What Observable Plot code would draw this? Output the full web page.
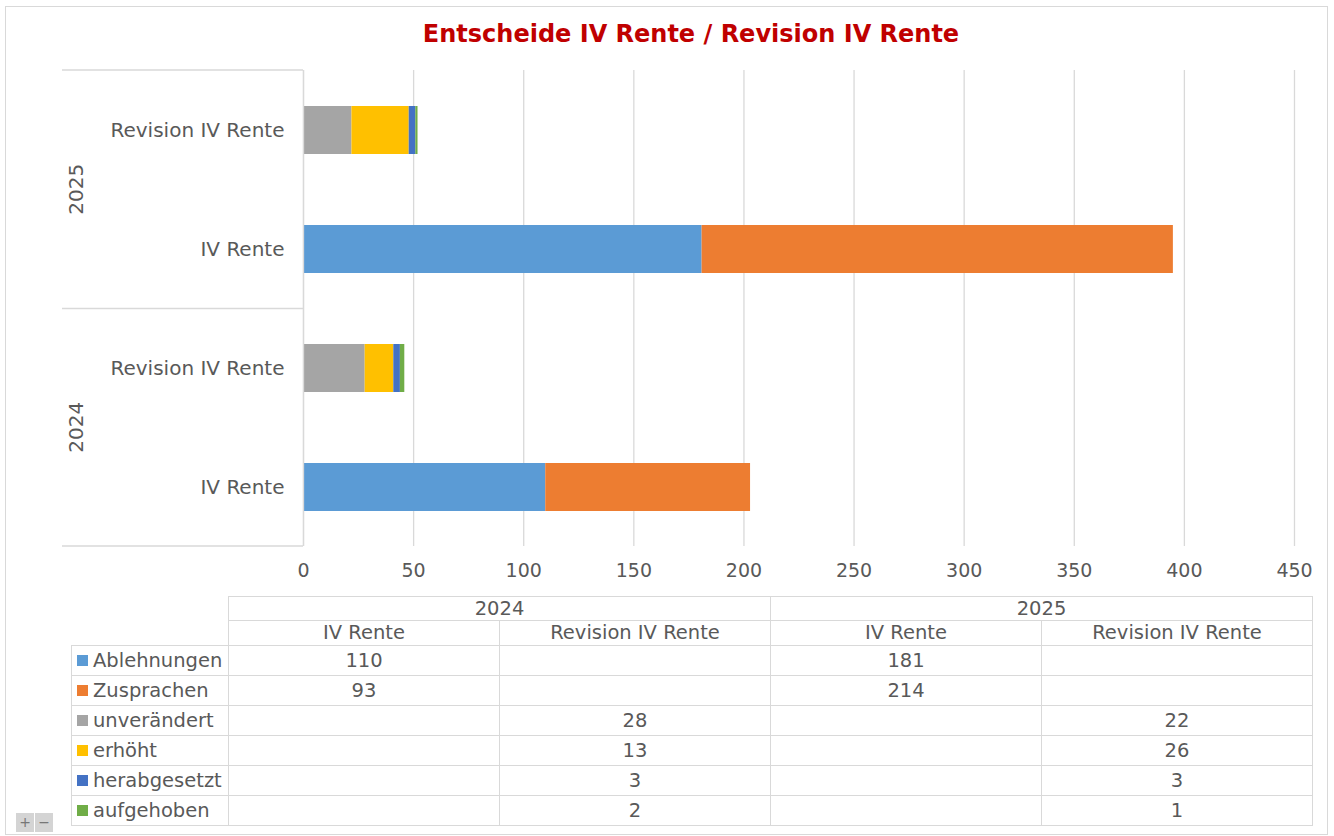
<!DOCTYPE html>
<html>
<head>
<meta charset="utf-8">
<script src="https://cdn.jsdelivr.net/npm/d3@7"></script>
<script src="https://cdn.jsdelivr.net/npm/@observablehq/plot@0.6"></script>
<style>
  body { margin: 0; background: #fff; }
  #wrap { position: relative; width: 1334px; height: 836px; overflow: hidden; font-family: "DejaVu Sans", sans-serif; color: #595959; background: #fff; }
  #border { position: absolute; left: 5px; top: 6px; width: 1323px; height: 829px; border: 1px solid #d9d9d9; box-sizing: border-box; }
  #title { position: absolute; left: 391px; width: 600px; top: 19px; text-align: center; font-family: "DejaVu Sans", sans-serif; font-weight: bold; font-size: 24px; line-height: 30px; color: #C00000; white-space: nowrap; }
  #chart { position: absolute; left: 0; top: 0; }
  #tbl { position: absolute; left: 71px; top: 596px; border-collapse: collapse; table-layout: fixed; font-size: 19.5px; color: #595959; }
  #tbl td { border: 1px solid #d9d9d9; text-align: center; padding: 0; white-space: nowrap; line-height: 22px; }
  #tbl td.blank { border: none; }
  #tbl td.lab { text-align: left; padding-left: 5px; }
  .sw { display: inline-block; width: 11px; height: 11px; margin-right: 5px; vertical-align: 1px; }
  #zoomctl { position: absolute; left: 16px; top: 813px; display: flex; gap: 1px; }
  #zoomctl span { display: block; width: 18px; height: 19px; background: #d4d4d4; color: #777; font-size: 14px; line-height: 19px; text-align: center; }
</style>
</head>
<body>
<div id="wrap">
  <div id="border"></div>
  <div id="chart"></div>
  <div id="title"></div>
  <table id="tbl"></table>
  <div id="zoomctl"><span>+</span><span>−</span></div>
</div>
<script>
// ---- data ----
const titleText = "Entscheide IV Rente / Revision IV Rente";
const years = ["2024", "2025"];
const types = ["IV Rente", "Revision IV Rente"];
const series = ["Ablehnungen", "Zusprachen", "unverändert", "erhöht", "herabgesetzt", "aufgehoben"];
const colors = ["#5B9BD5", "#ED7D31", "#A5A5A5", "#FFC000", "#4472C4", "#70AD47"];
// values in column order: 2024 IV Rente, 2024 Revision IV Rente, 2025 IV Rente, 2025 Revision IV Rente
const ablehnungen  = [110, null, 181, null];
const zusprachen   = [93,  null, 214, null];
const unveraendert = [null, 28, null, 22];
const erhoeht      = [null, 13, null, 26];
const herabgesetzt = [null, 3,  null, 3];
const aufgehoben   = [null, 2,  null, 1];
const xTicks = [0, 50, 100, 150, 200, 250, 300, 350, 400, 450];

const seriesValues = [ablehnungen, zusprachen, unveraendert, erhoeht, herabgesetzt, aufgehoben];
const columns = years.flatMap(yr => types.map(t => ({year: yr, type: t, key: yr + "|" + t})));
const data = [];
series.forEach((s, i) => seriesValues[i].forEach((v, j) => {
  if (v != null) data.push({series: s, key: columns[j].key, value: v});
}));
const yDomain = [...years].reverse().flatMap(yr => [...types].reverse().map(t => yr + "|" + t));

document.getElementById("title").textContent = titleText;

const chart = Plot.plot({
  width: 1334,
  height: 600,
  marginLeft: 303,
  marginRight: 40,
  marginTop: 70,
  marginBottom: 54,
  style: {fontFamily: '"DejaVu Sans", sans-serif', fontSize: "19px", color: "#595959", background: "transparent", overflow: "visible"},
  x: {domain: [0, 450], ticks: xTicks},
  y: {domain: yDomain, paddingInner: 0.597, paddingOuter: 0.2985},
  color: {domain: series, range: colors},
  marks: [
    Plot.gridX(xTicks, {stroke: "#d9d9d9", strokeOpacity: 1, strokeWidth: 1.3}),
    Plot.barX(data, Plot.stackX({x: "value", y: "key", fill: "series"})),
    Plot.ruleX([0], {stroke: "#d9d9d9", strokeWidth: 1.3}),
    Plot.axisX({ticks: xTicks, tickSize: 0, tickPadding: 17, fontSize: 19, label: null, fill: "#595959"}),
    Plot.axisY({tickSize: 0, tickPadding: 19, fontSize: 20, label: null, fill: "#595959", tickFormat: d => d.split("|")[1]})
  ]
});
document.getElementById("chart").appendChild(chart);

// group separators and year labels on the category axis, placed with the plot's scales
(function () {
  const ys = chart.scale("y");
  const xs = chart.scale("x");
  const bw = ys.bandwidth;
  const r0 = Math.min(...ys.range), r1 = Math.max(...ys.range);
  const xAxis = xs.apply(0);
  const svg = d3.select(chart);
  const g = svg.append("g");
  const groups = [...years].reverse();
  const bounds = [r0];
  for (let i = 1; i < groups.length; i++) {
    const lastPrev = ys.apply(yDomain[i * types.length - 1]) + bw;
    const firstNext = ys.apply(yDomain[i * types.length]);
    bounds.push((lastPrev + firstNext) / 2);
  }
  bounds.push(r1);
  bounds.forEach(b => {
    g.append("line").attr("x1", 62).attr("x2", xAxis).attr("y1", b).attr("y2", b)
      .attr("stroke", "#d9d9d9").attr("stroke-width", 1.3);
  });
  groups.forEach((yr, i) => {
    const cy = (bounds[i] + bounds[i + 1]) / 2;
    g.append("text").attr("transform", `translate(75.5,${cy}) rotate(-90)`)
      .attr("text-anchor", "middle").attr("dy", "0.36em")
      .attr("fill", "#595959").attr("font-size", 20).text(yr);
  });
})();

// data table
(function () {
  const tbl = document.getElementById("tbl");
  const colW = [157, 271, 271, 271, 271];
  const cg = document.createElement("colgroup");
  colW.forEach(w => { const c = document.createElement("col"); c.style.width = w + "px"; cg.appendChild(c); });
  tbl.appendChild(cg);
  let tr = document.createElement("tr"); tr.style.height = "24px";
  let td = document.createElement("td"); td.className = "blank"; td.rowSpan = 2; tr.appendChild(td);
  years.forEach(yr => { const c = document.createElement("td"); c.colSpan = types.length; c.textContent = yr; tr.appendChild(c); });
  tbl.appendChild(tr);
  tr = document.createElement("tr"); tr.style.height = "25px";
  columns.forEach(col => { const c = document.createElement("td"); c.textContent = col.type; tr.appendChild(c); });
  tbl.appendChild(tr);
  series.forEach((s, i) => {
    const r = document.createElement("tr"); r.style.height = "30px";
    const l = document.createElement("td"); l.className = "lab";
    const sw = document.createElement("span"); sw.className = "sw"; sw.style.background = colors[i];
    l.appendChild(sw); l.appendChild(document.createTextNode(s));
    r.appendChild(l);
    seriesValues[i].forEach(v => { const c = document.createElement("td"); c.textContent = v == null ? "" : v; r.appendChild(c); });
    tbl.appendChild(r);
  });
})();
</script>
</body>
</html>
